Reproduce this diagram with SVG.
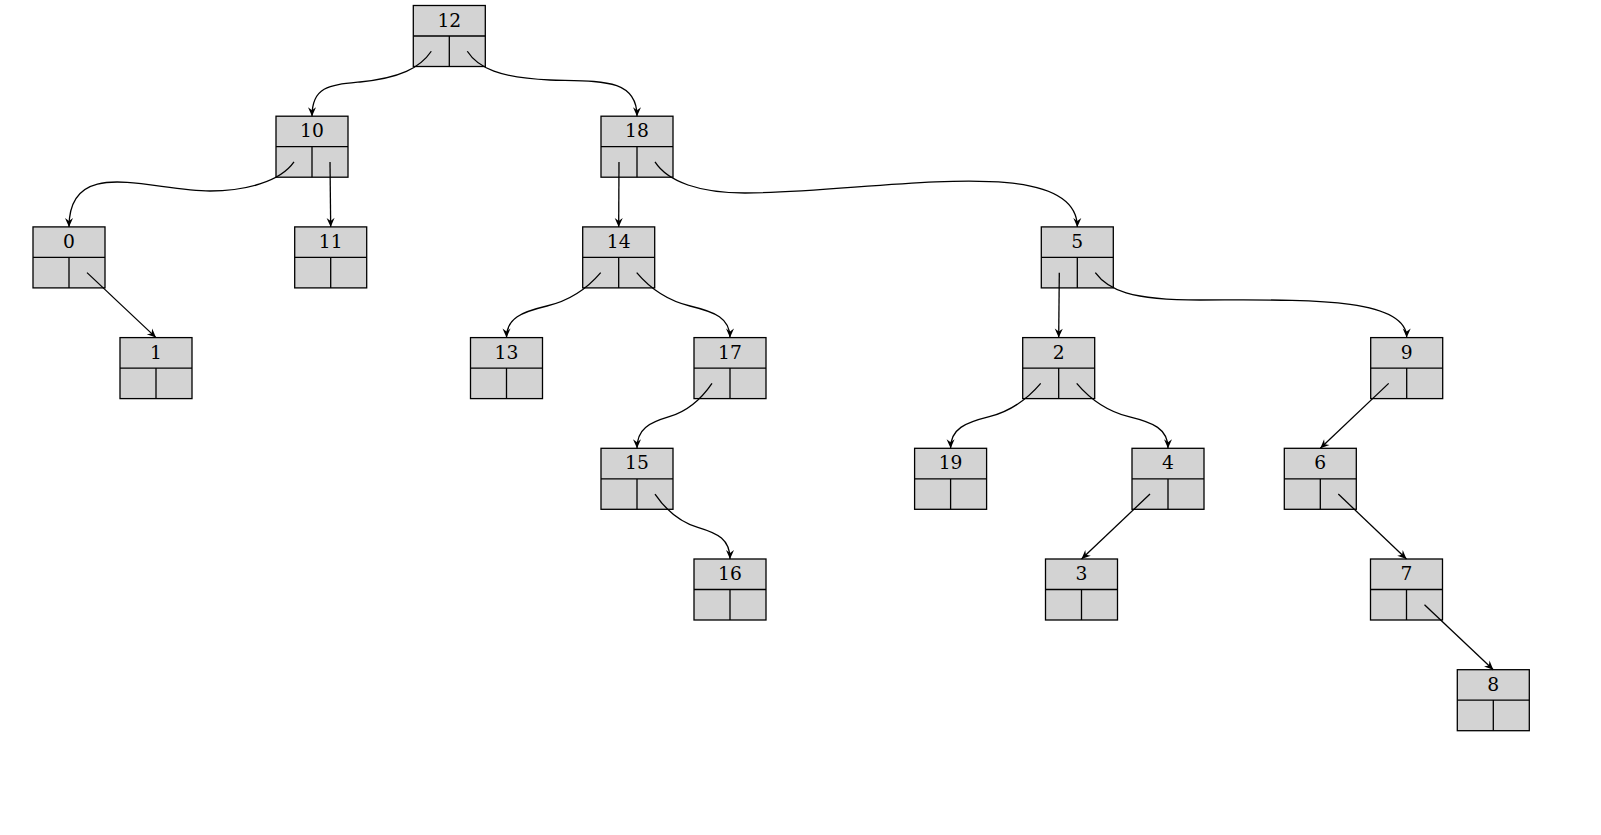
<svg xmlns="http://www.w3.org/2000/svg" width="1601" height="835" viewBox="0 0 1601 835">
<style>
.node rect{fill:#d3d3d3;stroke:#000;stroke-width:1.3}
.node path{fill:none;stroke:#000;stroke-width:1.3}
.node text{font-family:"DejaVu Serif","Liberation Serif",serif;font-size:18.7px;text-anchor:middle;fill:#000}
.edges path{fill:none;stroke:#000;stroke-width:1.3;marker-end:url(#ah)}
</style>
<defs>
<marker id="ah" viewBox="-10 -5 11 10" refX="0" refY="0" markerWidth="11" markerHeight="10" orient="auto" markerUnits="userSpaceOnUse">
<path d="M-9,-4 L0,0 L-9,4 L-6,0 Z" fill="#000" stroke="none"/>
</marker>
</defs>
<rect width="1601" height="835" fill="#fff"/>
<g id="nodes">
<g id="n12" class="node" transform="translate(413.3,5.5)"><rect width="72" height="61"/><path d="M0,30.5H72M36,30.5V61"/><text x="36" y="21">12</text></g>
<g id="n10" class="node" transform="translate(276,116.2)"><rect width="72" height="61"/><path d="M0,30.5H72M36,30.5V61"/><text x="36" y="21">10</text></g>
<g id="n18" class="node" transform="translate(601,116.2)"><rect width="72" height="61"/><path d="M0,30.5H72M36,30.5V61"/><text x="36" y="21">18</text></g>
<g id="n0" class="node" transform="translate(33,226.9)"><rect width="72" height="61"/><path d="M0,30.5H72M36,30.5V61"/><text x="36" y="21">0</text></g>
<g id="n11" class="node" transform="translate(294.7,226.9)"><rect width="72" height="61"/><path d="M0,30.5H72M36,30.5V61"/><text x="36" y="21">11</text></g>
<g id="n14" class="node" transform="translate(582.7,226.9)"><rect width="72" height="61"/><path d="M0,30.5H72M36,30.5V61"/><text x="36" y="21">14</text></g>
<g id="n5" class="node" transform="translate(1041.3,226.9)"><rect width="72" height="61"/><path d="M0,30.5H72M36,30.5V61"/><text x="36" y="21">5</text></g>
<g id="n1" class="node" transform="translate(120,337.6)"><rect width="72" height="61"/><path d="M0,30.5H72M36,30.5V61"/><text x="36" y="21">1</text></g>
<g id="n13" class="node" transform="translate(470.5,337.6)"><rect width="72" height="61"/><path d="M0,30.5H72M36,30.5V61"/><text x="36" y="21">13</text></g>
<g id="n17" class="node" transform="translate(694,337.6)"><rect width="72" height="61"/><path d="M0,30.5H72M36,30.5V61"/><text x="36" y="21">17</text></g>
<g id="n2" class="node" transform="translate(1022.7,337.6)"><rect width="72" height="61"/><path d="M0,30.5H72M36,30.5V61"/><text x="36" y="21">2</text></g>
<g id="n9" class="node" transform="translate(1370.7,337.6)"><rect width="72" height="61"/><path d="M0,30.5H72M36,30.5V61"/><text x="36" y="21">9</text></g>
<g id="n15" class="node" transform="translate(601,448.3)"><rect width="72" height="61"/><path d="M0,30.5H72M36,30.5V61"/><text x="36" y="21">15</text></g>
<g id="n19" class="node" transform="translate(914.6,448.3)"><rect width="72" height="61"/><path d="M0,30.5H72M36,30.5V61"/><text x="36" y="21">19</text></g>
<g id="n4" class="node" transform="translate(1132,448.3)"><rect width="72" height="61"/><path d="M0,30.5H72M36,30.5V61"/><text x="36" y="21">4</text></g>
<g id="n6" class="node" transform="translate(1284.3,448.3)"><rect width="72" height="61"/><path d="M0,30.5H72M36,30.5V61"/><text x="36" y="21">6</text></g>
<g id="n16" class="node" transform="translate(694,559)"><rect width="72" height="61"/><path d="M0,30.5H72M36,30.5V61"/><text x="36" y="21">16</text></g>
<g id="n3" class="node" transform="translate(1045.5,559)"><rect width="72" height="61"/><path d="M0,30.5H72M36,30.5V61"/><text x="36" y="21">3</text></g>
<g id="n7" class="node" transform="translate(1370.5,559)"><rect width="72" height="61"/><path d="M0,30.5H72M36,30.5V61"/><text x="36" y="21">7</text></g>
<g id="n8" class="node" transform="translate(1457.3,669.7)"><rect width="72" height="61"/><path d="M0,30.5H72M36,30.5V61"/><text x="36" y="21">8</text></g>
</g>
<g id="edges" class="edges">
<path d="M431.3,51.25 C420,68 400,78 360,82 C330,85 312,86 312,116.2"/>
<path d="M467.3,51.25 C478,68 500,78 550,80 C600,81.5 637,78 637,116.2"/>
<path d="M294,161.95 C280,182 245,191 210,191 C150,191 69,155 69,226.9"/>
<path d="M330,161.95 L330.7,226.9"/>
<path d="M619,161.95 L618.7,226.9"/>
<path d="M655,161.95 C668,182 700,193 745,193 C870,193 1077.3,150 1077.3,226.9"/>
<path d="M87,272.65 L156,337.6"/>
<path d="M600.7,272.65 C589.4,286 572.4,300 546.9,306 C521.7,312 506.5,318 506.5,337.6"/>
<path d="M636.7,272.65 C648,286 665,300 690,306 C715,312 730,318 730,337.6"/>
<path d="M1059.3,272.65 L1058.7,337.6"/>
<path d="M1095.3,272.65 C1108,290 1130,300 1200,300 C1300,300 1406.7,296 1406.7,337.6"/>
<path d="M712,383.35 C702.9,396.7 689.3,410.7 669.2,416.7 C649.1,422.7 637,428.7 637,448.3"/>
<path d="M1040.7,383.35 C1029.4,396.7 1012.4,410.7 989.3,416.7 C965.1,422.7 950.6,428.7 950.6,448.3"/>
<path d="M1076.7,383.35 C1088,396.7 1105,410.7 1128.8,416.7 C1153.3,422.7 1168,428.7 1168,448.3"/>
<path d="M1388.7,383.35 L1320.3,448.3"/>
<path d="M655,494.05 C664.1,507.4 677.7,521.4 697.8,527.4 C717.9,533.4 730,539.4 730,559"/>
<path d="M1150,494.05 L1081.5,559"/>
<path d="M1338.3,494.05 L1406.5,559"/>
<path d="M1424.5,604.75 L1493.3,669.7"/>
</g>
</svg>
